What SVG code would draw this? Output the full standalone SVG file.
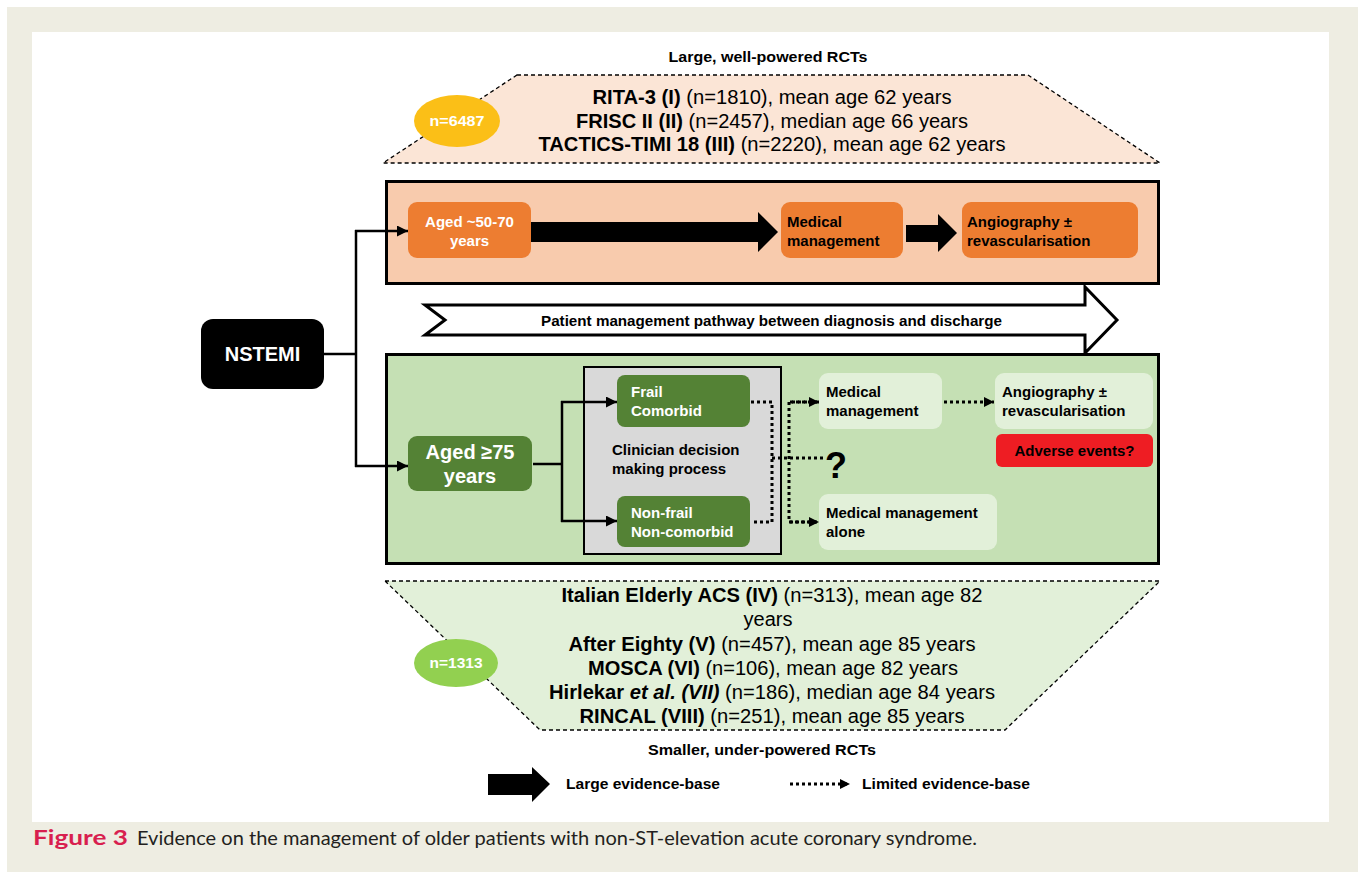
<svg xmlns="http://www.w3.org/2000/svg" width="1358" height="872" viewBox="0 0 1358 872">
<defs>
<marker id="ah" viewBox="0 0 10 10" refX="10" refY="5" markerWidth="11" markerHeight="11" markerUnits="userSpaceOnUse" orient="auto"><path d="M0,0 L10,5 L0,10 z" fill="#000"/></marker>
<marker id="ahd" viewBox="0 0 10 10" refX="10" refY="5" markerWidth="10" markerHeight="10" markerUnits="userSpaceOnUse" orient="auto"><path d="M0,0 L10,5 L0,10 z" fill="#000"/></marker>
</defs>
<style>
text{font-family:"Liberation Sans",Arial,sans-serif;}
.b{font-weight:bold;}
.lbl{font-size:15px;font-weight:bold;}
.wh{fill:#fff;}
.bk{fill:#000;}
.tr{font-size:20px;fill:#000;}
.sm{font-size:15px;font-weight:bold;fill:#000;}
.dash{stroke:#000;stroke-width:1.3;stroke-dasharray:4 3;}
.solid{fill:none;stroke:#000;stroke-width:2.5;}
.dot{fill:none;stroke:#000;stroke-width:3;stroke-dasharray:3 3;}
.onode{fill:#ed7d31;}
.gnode{fill:#548235;}
.lnode{fill:#e2f0d9;}
</style>
<rect x="0" y="0" width="1358" height="872" fill="#fff"/>
<rect x="7" y="7" width="1351" height="865" fill="#eeede2"/>
<rect x="32" y="32" width="1297" height="790" fill="#fff"/>

<g id="top-trials">
<text x="768" y="62" class="sm" text-anchor="middle" textLength="199" lengthAdjust="spacingAndGlyphs">Large, well-powered RCTs</text>
<polygon points="517,75 1028,75 1160,163 383,163" fill="#fbe5d6" class="dash"/>
<text x="772" y="104" class="tr" text-anchor="middle" textLength="359" lengthAdjust="spacingAndGlyphs"><tspan class="b">RITA-3 (I)</tspan> (n=1810), mean age 62 years</text>
<text x="772" y="128" class="tr" text-anchor="middle" textLength="392" lengthAdjust="spacingAndGlyphs"><tspan class="b">FRISC II (II)</tspan> (n=2457), median age 66 years</text>
<text x="772" y="151" class="tr" text-anchor="middle" textLength="467" lengthAdjust="spacingAndGlyphs"><tspan class="b">TACTICS-TIMI 18 (III)</tspan> (n=2220), mean age 62 years</text>
<ellipse cx="457" cy="121" rx="43" ry="26" fill="#fbbf17"/>
<text x="457" y="126" class="wh b" font-size="15" text-anchor="middle" textLength="55" lengthAdjust="spacingAndGlyphs">n=6487</text>
</g>

<g id="orange-panel">
<rect x="386.5" y="181.5" width="772" height="102" fill="#f8cbad" stroke="#000" stroke-width="3"/>
</g>
<g id="aged-50-70">
<rect x="408" y="202" width="123" height="56" rx="9" class="onode"/>
<text x="469.5" y="227" class="lbl wh" text-anchor="middle">Aged ~50-70</text>
<text x="469.5" y="246" class="lbl wh" text-anchor="middle">years</text>
</g>
<g id="medical-management-1">
<rect x="781" y="202" width="122" height="56" rx="9" class="onode"/>
<text x="787" y="227" class="lbl bk">Medical</text>
<text x="787" y="246" class="lbl bk">management</text>
</g>
<g id="angiography-1">
<rect x="962" y="202" width="176" height="56" rx="9" class="onode"/>
<text x="967" y="227" class="lbl bk">Angiography ±</text>
<text x="967" y="246" class="lbl bk">revascularisation</text>
</g>

<g id="pathway">
<polygon points="425,305 1085,305 1085,287 1117,320 1085,353 1085,335 425,335 445,320" fill="#fff" stroke="#000" stroke-width="3" stroke-linejoin="miter"/>
<text x="771.5" y="326" class="lbl bk" text-anchor="middle" textLength="461" lengthAdjust="spacingAndGlyphs">Patient management pathway between diagnosis and discharge</text>
</g>

<g id="nstemi">
<rect x="201" y="319" width="123" height="70" rx="12" fill="#000"/>
<text x="262.5" y="361" class="wh b" font-size="20" text-anchor="middle">NSTEMI</text>
</g>

<g id="green-panel">
<rect x="386.5" y="354.5" width="772" height="209" fill="#c5e0b4" stroke="#000" stroke-width="3"/>
</g>
<g id="aged-75">
<rect x="408" y="436" width="124" height="55" rx="9" class="gnode"/>
<text x="470" y="459" class="wh b" font-size="20" text-anchor="middle">Aged ≥75</text>
<text x="470" y="483" class="wh b" font-size="20" text-anchor="middle">years</text>
</g>
<g id="clinician-decision">
<rect x="584" y="367" width="197" height="187" fill="#d9d9d9" stroke="#000" stroke-width="2"/>
<text x="612" y="455" class="lbl bk" font-size="15.5">Clinician decision</text>
<text x="612" y="474" class="lbl bk" font-size="15.5">making process</text>
</g>
<g id="frail">
<rect x="617" y="375" width="133" height="52" rx="8" class="gnode"/>
<text x="631" y="397" class="lbl wh">Frail</text>
<text x="631" y="416" class="lbl wh">Comorbid</text>
</g>
<g id="non-frail">
<rect x="617" y="496" width="133" height="51" rx="8" class="gnode"/>
<text x="631" y="518" class="lbl wh">Non-frail</text>
<text x="631" y="537" class="lbl wh">Non-comorbid</text>
</g>
<g id="medical-management-2">
<rect x="819" y="373" width="123" height="56" rx="9" class="lnode"/>
<text x="826" y="397" class="lbl bk">Medical</text>
<text x="826" y="416" class="lbl bk">management</text>
</g>
<g id="angiography-2">
<rect x="995" y="373" width="158" height="56" rx="9" class="lnode"/>
<text x="1002" y="397" class="lbl bk">Angiography ±</text>
<text x="1002" y="416" class="lbl bk">revascularisation</text>
</g>
<g id="adverse-events">
<rect x="996" y="434" width="157" height="33" rx="6" fill="#ee1d23"/>
<text x="1074.5" y="456" class="lbl bk" text-anchor="middle">Adverse events?</text>
</g>
<g id="question">
<text x="836" y="478" class="bk b" font-size="36" text-anchor="middle">?</text>
</g>
<g id="medical-management-alone">
<rect x="819" y="494" width="178" height="56" rx="9" class="lnode"/>
<text x="826" y="518" class="lbl bk">Medical management</text>
<text x="826" y="537" class="lbl bk">alone</text>
</g>

<g id="connectors">
<path d="M324,354 H356" class="solid"/>
<path d="M356,230 V467" class="solid"/>
<path d="M355,231 H408" class="solid" marker-end="url(#ah)"/>
<path d="M355,466 H408" class="solid" marker-end="url(#ah)"/>
<polygon points="531,222 758,222 758,212 778,232 758,252 758,242 531,242" fill="#000"/>
<polygon points="906,225 938,225 938,214 957,233 938,252 938,242 906,242" fill="#000"/>
<path d="M533,464 H561" class="solid"/>
<path d="M562,401 V522" class="solid"/>
<path d="M561,402 H617" class="solid" marker-end="url(#ah)"/>
<path d="M561,521 H617" class="solid" marker-end="url(#ah)"/>
<path d="M751,402 H772 V522 H751" class="dot"/>
<path d="M772,458 H824" class="dot"/>
<path d="M819,402 H789 V522 H819" class="dot" marker-start="url(#none)"/>
<path d="M790,402 H819" class="dot" marker-end="url(#ahd)"/>
<path d="M790,522 H819" class="dot" marker-end="url(#ahd)"/>
<path d="M944,402 H994" class="dot" marker-end="url(#ahd)"/>
</g>

<g id="bottom-trials">
<polygon points="385,581 1160,581 1005,730 540,730" fill="#e2f0d9" class="dash"/>
<text x="772" y="602" class="tr" text-anchor="middle" textLength="421" lengthAdjust="spacingAndGlyphs"><tspan class="b">Italian Elderly ACS (IV)</tspan> (n=313), mean age 82</text>
<text x="768" y="626" class="tr" text-anchor="middle">years</text>
<text x="772" y="651" class="tr" text-anchor="middle" textLength="407" lengthAdjust="spacingAndGlyphs"><tspan class="b">After Eighty (V)</tspan> (n=457), mean age 85 years</text>
<text x="773" y="675" class="tr" text-anchor="middle" textLength="370" lengthAdjust="spacingAndGlyphs"><tspan class="b">MOSCA (VI)</tspan> (n=106), mean age 82 years</text>
<text x="772" y="699" class="tr" text-anchor="middle" textLength="446" lengthAdjust="spacingAndGlyphs"><tspan class="b">Hirlekar </tspan><tspan class="b" font-style="italic">et al. (VII)</tspan> (n=186), median age 84 years</text>
<text x="772" y="723" class="tr" text-anchor="middle" textLength="385" lengthAdjust="spacingAndGlyphs"><tspan class="b">RINCAL (VIII)</tspan> (n=251), mean age 85 years</text>
<ellipse cx="456" cy="663" rx="42" ry="24" fill="#92d050"/>
<text x="456" y="668" class="wh b" font-size="15" text-anchor="middle" textLength="53" lengthAdjust="spacingAndGlyphs">n=1313</text>
<text x="762" y="755" class="sm" text-anchor="middle" textLength="228" lengthAdjust="spacingAndGlyphs">Smaller, under-powered RCTs</text>
</g>

<g id="legend">
<polygon points="488,774 532,774 532,767 550,784 532,802 532,795 488,795" fill="#000"/>
<text x="566" y="789" class="sm" textLength="154" lengthAdjust="spacingAndGlyphs">Large evidence-base</text>
<path d="M790,784 H850" class="dot" marker-end="url(#ahd)"/>
<text x="862" y="789" class="sm" textLength="168" lengthAdjust="spacingAndGlyphs">Limited evidence-base</text>
</g>

<g id="caption">
<text x="33" y="845" font-family="Lato,'Open Sans',sans-serif" font-weight="bold" font-size="21" fill="#d81f4f" textLength="95" lengthAdjust="spacingAndGlyphs" style="font-family:Lato,'Open Sans',sans-serif">Figure 3</text>
<text x="137" y="845" font-size="19" fill="#231f20" textLength="840" lengthAdjust="spacingAndGlyphs" style="font-family:Lato,'Open Sans',sans-serif">Evidence on the management of older patients with non-ST-elevation acute coronary syndrome.</text>
</g>
</svg>
